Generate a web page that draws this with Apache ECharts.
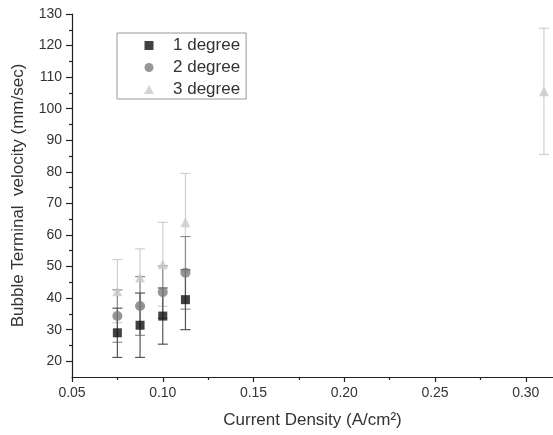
<!DOCTYPE html>
<html><head><meta charset="utf-8">
<script src="https://cdn.jsdelivr.net/npm/echarts@6/dist/echarts.min.js"></script>
<style>html,body{margin:0;padding:0;background:#fff}#c{width:553px;height:435px}</style>
</head><body><div id="c"></div>
<script>
// ---- data ----
const seriesNames = ['1 degree', '2 degree', '3 degree'];
const xTicks = [0.05, 0.10, 0.15, 0.20, 0.25, 0.30];
const xMinorTicks = [0.075, 0.125, 0.175, 0.225, 0.275];
const yTicks = [20, 30, 40, 50, 60, 70, 80, 90, 100, 110, 120, 130];
const yMinorTicks = [25, 35, 45, 55, 65, 75, 85, 95, 105, 115, 125];

const x1 = [0.075, 0.0875, 0.1, 0.1125];
const y1 = [29.0, 31.4, 34.3, 39.5];
const e1 = [7.8, 10.2, 8.9, 9.5];

const x2 = [0.075, 0.0875, 0.1, 0.1125];
const y2 = [34.3, 37.5, 41.9, 48.0];
const e2 = [8.3, 9.3, 8.3, 11.5];

const x3 = [0.075, 0.0875, 0.1, 0.1125, 0.31];
const y3 = [42.2, 46.5, 50.7, 64.0, 105.5];
const e3 = [10.0, 9.1, 13.3, 15.5, 20.0];

// ---- chart ----
const FONT = 'Liberation Sans';
const pts = (xs, ys) => xs.map((x, i) => [x, ys[i]]);
const errs = (xs, ys, es) => xs.map((x, i) => [x, ys[i] - es[i], ys[i] + es[i]]);

function errorBar(color) {
  return function (params, api) {
    const x = api.value(0), lo = api.value(1), hi = api.value(2);
    const a = api.coord([x, lo]), b = api.coord([x, hi]);
    const w = 5;
    const st = { stroke: color, lineWidth: 1.2 };
    return {
      type: 'group',
      children: [
        { type: 'line', shape: { x1: a[0], y1: a[1], x2: b[0], y2: b[1] }, style: st },
        { type: 'line', shape: { x1: a[0] - w, y1: a[1], x2: a[0] + w, y2: a[1] }, style: st },
        { type: 'line', shape: { x1: b[0] - w, y1: b[1], x2: b[0] + w, y2: b[1] }, style: st }
      ]
    };
  };
}

const markerColors = ['#111111', '#7c7c7c', '#c9c9c9'];
const barColors = ['#555555', '#8e8e8e', '#cfcfcf'];
const legendIcons = [
  'path://M0,0L10,0L10,10L0,10Z',
  'path://M5,0A5,5,0,1,1,5,10A5,5,0,1,1,5,0Z',
  'path://M5,0L10,9L0,9Z'
];

const axisColor = '#222';
const labelColor = '#333';

const option = {
  animation: false,
  backgroundColor: '#fff',
  textStyle: { fontFamily: FONT },
  grid: { left: 72, right: 0, top: 14, bottom: 58, containLabel: false },
  legend: {
    orient: 'vertical',
    left: 117, top: 33,
    data: seriesNames.map((n, i) => ({ name: n, icon: legendIcons[i] })),
    itemWidth: 38, itemHeight: 9,
    symbolKeepAspect: true,
    itemGap: 5,
    padding: [4, 6, 1, 27],
    borderColor: '#999', borderWidth: 1,
    textStyle: { fontFamily: FONT, fontSize: 17, color: '#333' }
  },
  xAxis: [{
    type: 'value', min: 0.05, max: 0.315, position: 'bottom',
    axisLine: { show: true, lineStyle: { color: axisColor, width: 1.2 } },
    axisTick: { show: true, inside: false, length: 5, customValues: xTicks, lineStyle: { color: axisColor, width: 1.2 } },
    axisLabel: { customValues: xTicks, formatter: v => v.toFixed(2), fontFamily: FONT, fontSize: 14, color: labelColor, margin: 9 },
    splitLine: { show: false },
    name: 'Current Density (A/cm²)', nameLocation: 'middle', nameGap: 35,
    nameTextStyle: { fontFamily: FONT, fontSize: 17, color: labelColor }
  }, {
    type: 'value', min: 0.05, max: 0.315, position: 'bottom',
    axisLine: { show: false },
    axisTick: { show: true, inside: false, length: 3, customValues: xMinorTicks, lineStyle: { color: axisColor, width: 1.2 } },
    axisLabel: { show: false },
    splitLine: { show: false }
  }],
  yAxis: [{
    type: 'value', min: 15, max: 130, position: 'left',
    axisLine: { show: true, lineStyle: { color: axisColor, width: 1.2 } },
    axisTick: { show: true, inside: false, length: 6, customValues: yTicks, lineStyle: { color: axisColor, width: 1.2 } },
    axisLabel: { customValues: yTicks, fontFamily: FONT, fontSize: 14, color: labelColor, margin: 10 },
    splitLine: { show: false },
    name: 'Bubble Terminal  velocity (mm/sec)', nameLocation: 'middle', nameGap: 45,
    nameTextStyle: { fontFamily: FONT, fontSize: 17, color: labelColor }
  }, {
    type: 'value', min: 15, max: 130, position: 'left',
    axisLine: { show: false },
    axisTick: { show: true, inside: false, length: 3, customValues: yMinorTicks, lineStyle: { color: axisColor, width: 1.2 } },
    axisLabel: { show: false },
    splitLine: { show: false }
  }],
  series: [
    { type: 'custom', name: seriesNames[2] + ' err', renderItem: errorBar(barColors[2]), data: errs(x3, y3, e3), z: 1, encode: { x: 0, y: [1, 2] } },
    { type: 'custom', name: seriesNames[1] + ' err', renderItem: errorBar(barColors[1]), data: errs(x2, y2, e2), z: 1, encode: { x: 0, y: [1, 2] } },
    { type: 'custom', name: seriesNames[0] + ' err', renderItem: errorBar(barColors[0]), data: errs(x1, y1, e1), z: 1, encode: { x: 0, y: [1, 2] } },
    { type: 'scatter', name: seriesNames[2], symbol: 'triangle', symbolSize: 10, data: pts(x3, y3), itemStyle: { color: markerColors[2] }, z: 3 },
    { type: 'scatter', name: seriesNames[1], symbol: 'circle', symbolSize: 10, data: pts(x2, y2), itemStyle: { color: markerColors[1] }, z: 4 },
    { type: 'scatter', name: seriesNames[0], symbol: 'rect', symbolSize: 9, data: pts(x1, y1), itemStyle: { color: markerColors[0] }, z: 5 }
  ]
};
const chart = echarts.init(document.getElementById('c'), null, { renderer: 'canvas' });
chart.setOption(option);
</script>
</body></html>
